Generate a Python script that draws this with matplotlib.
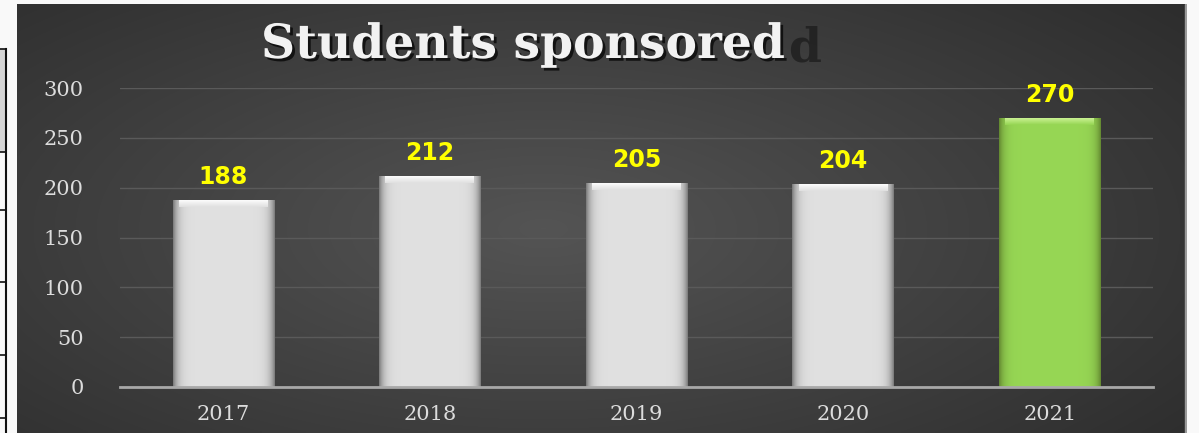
import matplotlib
matplotlib.use("Agg")
import matplotlib.pyplot as plt
import matplotlib.patheffects as pe
from matplotlib.lines import Line2D
from matplotlib.patches import Rectangle
import numpy as np

years = ["2017", "2018", "2019", "2020", "2021"]
students = [188, 212, 205, 204, 270]
y_ticks = [0, 50, 100, 150, 200, 250, 300]
title = "Students sponsored"

W, H = 1199, 433
fig = plt.figure(figsize=(W / 100, H / 100), dpi=100, facecolor="#f9f9f9")

# left border remnants of a table next to the chart
fig.patches.append(Rectangle((0, 1 - 152 / H), 6 / W, 103 / H, transform=fig.transFigure,
                             facecolor="#d6d6d6", edgecolor="none"))
fig.lines.append(Line2D([6 / W, 6 / W], [0, 1 - 49 / H], transform=fig.transFigure,
                        color="#111111", lw=1.5))
for yy in [49, 152, 210, 282, 355, 418]:
    fig.lines.append(Line2D([0, 6 / W], [1 - yy / H, 1 - yy / H], transform=fig.transFigure,
                            color="#111111", lw=1.2))

# dark panel with radial gradient
bg = fig.add_axes([17 / W, 0, (1187 - 17) / W, 429 / H], zorder=0)
gx, gy = np.meshgrid(np.linspace(-1, 1, 400), np.linspace(-1, 1, 150))
r = np.sqrt(((gx + 0.1) / 1.2) ** 2 + ((gy - 0.05) / 1.4) ** 2)
v = np.clip(0.33 - 0.13 * r, 0.17, 0.34)
bg.imshow(np.dstack([v, v, v]), aspect="auto", extent=[0, 1, 0, 1], interpolation="bilinear")
bg.set_xlim(0, 1)
bg.set_ylim(0, 1)
bg.axis("off")
bg.add_patch(Rectangle((0.9985, 0), 0.0015, 1, transform=bg.transAxes, color="#9a9a9a"))

ax = fig.add_axes([120 / W, (433 - 387) / H, (1153 - 120) / W, (387 - 88) / H], zorder=1)
ax.patch.set_alpha(0)
x = np.arange(len(years))
colors = ["#dedede"] * 4 + ["#92d050"]
bars = ax.bar(x, students, width=0.49, color=colors, zorder=3)

for b, c in zip(bars, colors):
    x0, y0, w, h = b.get_x(), b.get_y(), b.get_width(), b.get_height()
    t = np.linspace(-1, 1, 100)
    prof = 1 - np.abs(t) ** 10
    if c == "#92d050":
        lo, hi = np.array([0.40, 0.55, 0.20]), np.array([0.59, 0.84, 0.33])
        capc = "#c8f090"
    else:
        lo, hi = np.array([0.50, 0.50, 0.50]), np.array([0.88, 0.88, 0.88])
        capc = "#fbfbfb"
    img = lo + (hi - lo) * prof[:, None]
    img = np.tile(img[None, :, :], (2, 1, 1))
    im = ax.imshow(img, extent=[x0, x0 + w, y0, y0 + h], aspect="auto",
                   interpolation="bilinear", zorder=4)
    im.set_clip_path(b)
    # top bevel, fading from the bar colour into a bright rim
    cap = np.array(matplotlib.colors.to_rgb(capc))
    fade = np.linspace(0, 1, 8)[:, None, None]
    capimg = np.tile(cap, (8, 2, 1)) * fade + hi * (1 - fade)
    ax.imshow(capimg, extent=[x0 + 0.03, x0 + w - 0.03, y0 + h - 7, y0 + h - 0.3],
              aspect="auto", interpolation="bilinear", zorder=5, origin="lower")
    ax.annotate(str(int(h)), (x0 + w / 2, h), xytext=(0, 8), textcoords="offset points",
                ha="center", va="bottom", color="#ffff00", fontsize=17,
                fontweight="heavy", family="DejaVu Sans", zorder=6)

ax.set_xlim(-0.5, len(years) - 0.5)
ax.set_ylim(0, 300)
ax.set_yticks(y_ticks)
ax.set_xticks(x)
ax.set_xticklabels(years)
ax.grid(axis="y", color="#5a5a5a", lw=1, zorder=1)
for s in ["top", "right", "left"]:
    ax.spines[s].set_visible(False)
ax.spines["bottom"].set_color("#a8a8a8")
ax.spines["bottom"].set_linewidth(2)
ax.spines["bottom"].set_zorder(6)
ax.tick_params(length=0, colors="#dcdcdc", labelsize=15, pad=13)
ax.tick_params(axis="y", pad=26)
for lab in ax.get_xticklabels() + ax.get_yticklabels():
    lab.set_family("DejaVu Serif")

# title with its stray shadow letter
ttl = fig.text(523 / W, 1 - 45 / H, title, ha="center", va="center", fontsize=34,
               fontweight="bold", family="DejaVu Serif", color="#f2f2f2", zorder=3,
               path_effects=[pe.withSimplePatchShadow(offset=(2, -2),
                                                      shadow_rgbFace="#000000", alpha=0.7)])
fig.canvas.draw()
ext = ttl.get_window_extent()
fig.text((ext.x1 + 3) / W, 1 - 48 / H, "d", ha="left", va="center", fontsize=34,
         fontweight="bold", family="DejaVu Serif", color="#1c1c1c", alpha=0.75, zorder=2)

fig.savefig("out.png", dpi=100, facecolor=fig.get_facecolor())
